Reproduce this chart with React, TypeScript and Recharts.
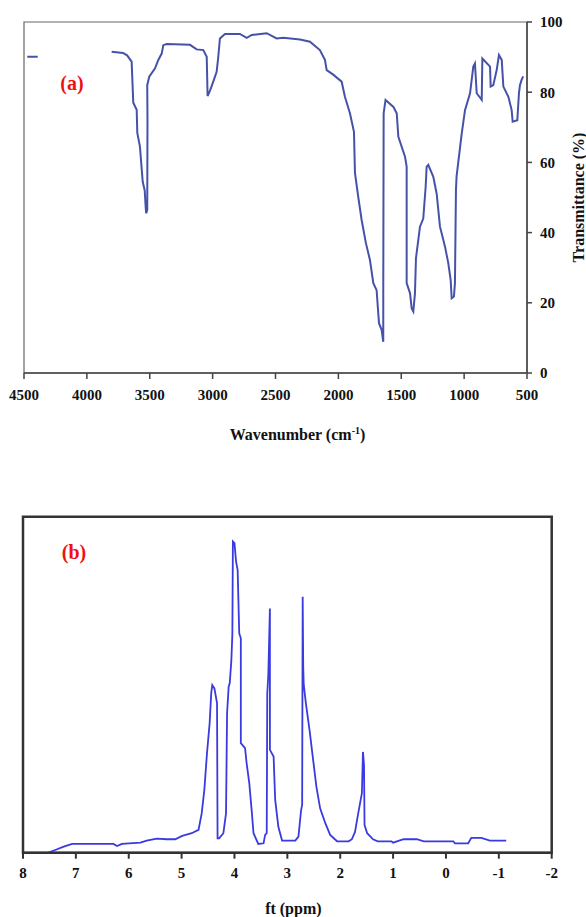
import { LineChart, Line, XAxis, YAxis, ReferenceArea, Label, Customized } from "recharts"

// FTIR spectrum (a)
const irWavenumber = [4474, 4391, 4100, 3803, 3712, 3680, 3644, 3631, 3604, 3599, 3578, 3556, 3540, 3532, 3528, 3520, 3518, 3520, 3504, 3458, 3432, 3405, 3392, 3365, 3180, 3127, 3074, 3047, 3040, 3020, 2995, 2968, 2955, 2942, 2902, 2783, 2729, 2689, 2570, 2491, 2438, 2305, 2226, 2147, 2107, 2093, 2041, 1974, 1948, 1908, 1876, 1868, 1842, 1815, 1781, 1749, 1722, 1696, 1677, 1656, 1643, 1643, 1640, 1625, 1562, 1536, 1523, 1470, 1457, 1457, 1430, 1417, 1404, 1391, 1383, 1351, 1325, 1306, 1298, 1285, 1245, 1218, 1192, 1152, 1126, 1107, 1099, 1081, 1073, 1065, 1060, 1019, 993, 953, 927, 914, 900, 860, 855, 794, 789, 768, 741, 723, 701, 688, 648, 622, 614, 577, 564, 556, 543, 530];
const irTransmittance = [90.1, 90.1, null, 91.5, 91.2, 90.5, 88.7, 77, 75, 68.4, 64.5, 54.5, 52, 47, 45.5, 46.5, 72, 82, 84.4, 86.8, 89.2, 91, 93.4, 93.7, 93.5, 92.2, 92, 90.1, 78.9, 80.5, 83, 85.8, 90.1, 95.3, 96.6, 96.6, 95.5, 96.3, 96.8, 95.3, 95.5, 95, 94.4, 92, 89.2, 86.3, 85, 83, 78.7, 74, 68.7, 57, 50.2, 43.6, 37, 32.2, 25.6, 23.6, 14.2, 12.3, 8.9, 22.7, 74, 77.8, 75.8, 74, 67.3, 61.6, 58.8, 25.6, 22.7, 18.4, 17.5, 22.7, 32.7, 41.7, 44, 53, 58.8, 59.3, 55.9, 51, 41.7, 36, 31.3, 26.5, 21.3, 21.8, 25.6, 52.1, 56, 68.3, 74.9, 79.7, 87.3, 88.2, 79.7, 77.8, 89.6, 87.3, 81.6, 82, 86.3, 90.6, 89.2, 81.6, 78.7, 74.9, 71.6, 72, 79.7, 82, 83.5, 84.5];
const irTicksX = [4500, 4000, 3500, 3000, 2500, 2000, 1500, 1000, 500];
const irTicksY = [0, 20, 40, 60, 80, 100];

// 1H NMR spectrum (b)
const nmrShift = [7.52, 7.39, 7.23, 7.07, 6.29, 6.22, 6.13, 5.78, 5.66, 5.47, 5.28, 5.12, 4.99, 4.81, 4.68, 4.62, 4.57, 4.52, 4.47, 4.44, 4.42, 4.38, 4.33, 4.32, 4.29, 4.21, 4.16, 4.14, 4.11, 4.09, 4.06, 4.04, 4.03, 4.0, 3.97, 3.94, 3.91, 3.88, 3.88, 3.8, 3.77, 3.72, 3.67, 3.64, 3.55, 3.45, 3.42, 3.39, 3.38, 3.36, 3.33, 3.33, 3.26, 3.23, 3.17, 3.1, 2.85, 2.79, 2.74, 2.72, 2.71, 2.7, 2.69, 2.65, 2.58, 2.52, 2.45, 2.38, 2.28, 2.19, 2.06, 1.84, 1.78, 1.72, 1.66, 1.59, 1.57, 1.55, 1.54, 1.49, 1.38, 1.29, 1.03, 1.0, 0.8, 0.55, 0.42, -0.14, -0.17, -0.42, -0.48, -0.67, -0.83, -1.14];
const nmrIntensity = [0, 0.8, 1.8, 2.6, 2.6, 2, 2.6, 3, 3.6, 4.2, 4, 4, 5, 5.8, 6.8, 11.7, 18.7, 29.6, 38.5, 47.4, 49.9, 48.9, 44.5, 4.3, 4.3, 5.8, 11.7, 41.5, 49.4, 50.4, 57, 65, 92.6, 92.1, 86.6, 84.1, 65.3, 63.8, 32.6, 31.1, 26.6, 20.7, 11.7, 5.8, 2.6, 2.8, 5.3, 5.8, 47.4, 52.9, 72.7, 30.6, 28.6, 15.7, 7.7, 3.6, 3.6, 4.8, 12.7, 14.2, 76.2, 55.4, 50, 44.5, 36.5, 28.6, 19.6, 13.2, 8.7, 5.3, 3.4, 3.4, 4, 6.2, 11.7, 17.7, 30, 26.1, 8.2, 5.8, 4, 3.4, 3.4, 3, 4, 4, 3.4, 3.4, 2.8, 2.8, 4.4, 4.4, 3.6, 3.6];
const nmrTicksX = [8, 7, 6, 5, 4, 3, 2, 1, 0, -1, -2];

const irData = irWavenumber.map((w, i) => ({ w, t: irTransmittance[i] }));
const nmrData = nmrShift.map((s, i) => ({ s, v: nmrIntensity[i] }));

const FONT = "'Liberation Serif', 'Times New Roman', serif";
const tickStyle = { fontFamily: FONT, fontWeight: 700, fontSize: 15, fill: "#111" };

export default function App() {
    return (
        <div style={{ position: "absolute", left: 0, top: 0, width: 586, height: 917, background: "#fff" }}>
            <LineChart width={586} height={460} data={irData} margin={{ top: 22, right: 19, bottom: 57, left: 24 }} style={{ display: "block" }}>
                <ReferenceArea x1={4500} x2={500} y1={0} y2={100} fill="none" stroke="#666" strokeWidth={1.2} ifOverflow="visible" />
                <XAxis
                    dataKey="w"
                    type="number"
                    domain={[500, 4500]}
                    reversed
                    ticks={irTicksX}
                    height={30}
                    stroke="#444"
                    strokeWidth={1.5}
                    tickSize={6}
                    tickMargin={10}
                    tick={tickStyle}
                >
                    <Label
                        content={({ viewBox }: any) => (
                            <text x={viewBox.x + viewBox.width / 2 + 22} y={viewBox.y + 67} textAnchor="middle" fontFamily={FONT} fontWeight={700} fontSize={16} fill="#111">
                                Wavenumber (cm<tspan dy={-6} fontSize={10}>-1</tspan><tspan dy={6}>)</tspan>
                            </text>
                        )}
                    />
                </XAxis>
                <YAxis
                    orientation="right"
                    type="number"
                    domain={[0, 100]}
                    ticks={irTicksY}
                    width={40}
                    stroke="#444"
                    strokeWidth={1.5}
                    tickSize={5}
                    tickMargin={8}
                    tick={{ ...tickStyle, textAnchor: "start" }}
                >
                    <Label
                        content={({ viewBox }: any) => {
                            const cx = viewBox.x + 51
                            const cy = viewBox.y + viewBox.height / 2
                            return (
                                <text x={cx} y={cy} transform={`rotate(-90 ${cx} ${cy})`} textAnchor="middle" dominantBaseline="central" fontFamily={FONT} fontWeight={700} fontSize={16} fill="#111">
                                    Transmittance  (%)
                                </text>
                            )
                        }}
                    />
                </YAxis>
                <Line dataKey="t" type="linear" stroke="#4652a8" strokeWidth={2} dot={false} isAnimationActive={false} connectNulls={false} />
                <Customized component={() => (
                    <text x={72} y={90} textAnchor="middle" fontFamily={FONT} fontWeight={700} fontSize={20} fill="#ee1111">(a)</text>
                )} />
            </LineChart>

            <LineChart width={586} height={457} data={nmrData} margin={{ top: 56.7, right: 34.3, bottom: 34.3, left: 23 }} style={{ display: "block" }}>
                <ReferenceArea x1={8} x2={-2} y1={0} y2={100} fill="none" stroke="#333" strokeWidth={2.5} ifOverflow="visible" />
                <XAxis
                    dataKey="s"
                    type="number"
                    domain={[-2, 8]}
                    reversed
                    ticks={nmrTicksX}
                    height={30}
                    stroke="#333"
                    strokeWidth={2}
                    tickSize={6}
                    tickMargin={9}
                    tick={tickStyle}
                >
                    <Label
                        content={({ viewBox }: any) => (
                            <text x={viewBox.x + viewBox.width / 2 + 6} y={viewBox.y + 61} textAnchor="middle" fontFamily={FONT} fontWeight={700} fontSize={16} fill="#111">
                                ft (ppm)
                            </text>
                        )}
                    />
                </XAxis>
                <YAxis hide type="number" domain={[0, 100]} />
                <Line dataKey="v" type="linear" stroke="#3a3ae0" strokeWidth={1.8} dot={false} isAnimationActive={false} />
                <Customized component={() => (
                    <text x={74} y={99} textAnchor="middle" fontFamily={FONT} fontWeight={700} fontSize={20} fill="#ee1111">(b)</text>
                )} />
            </LineChart>
        </div>
    )
}
